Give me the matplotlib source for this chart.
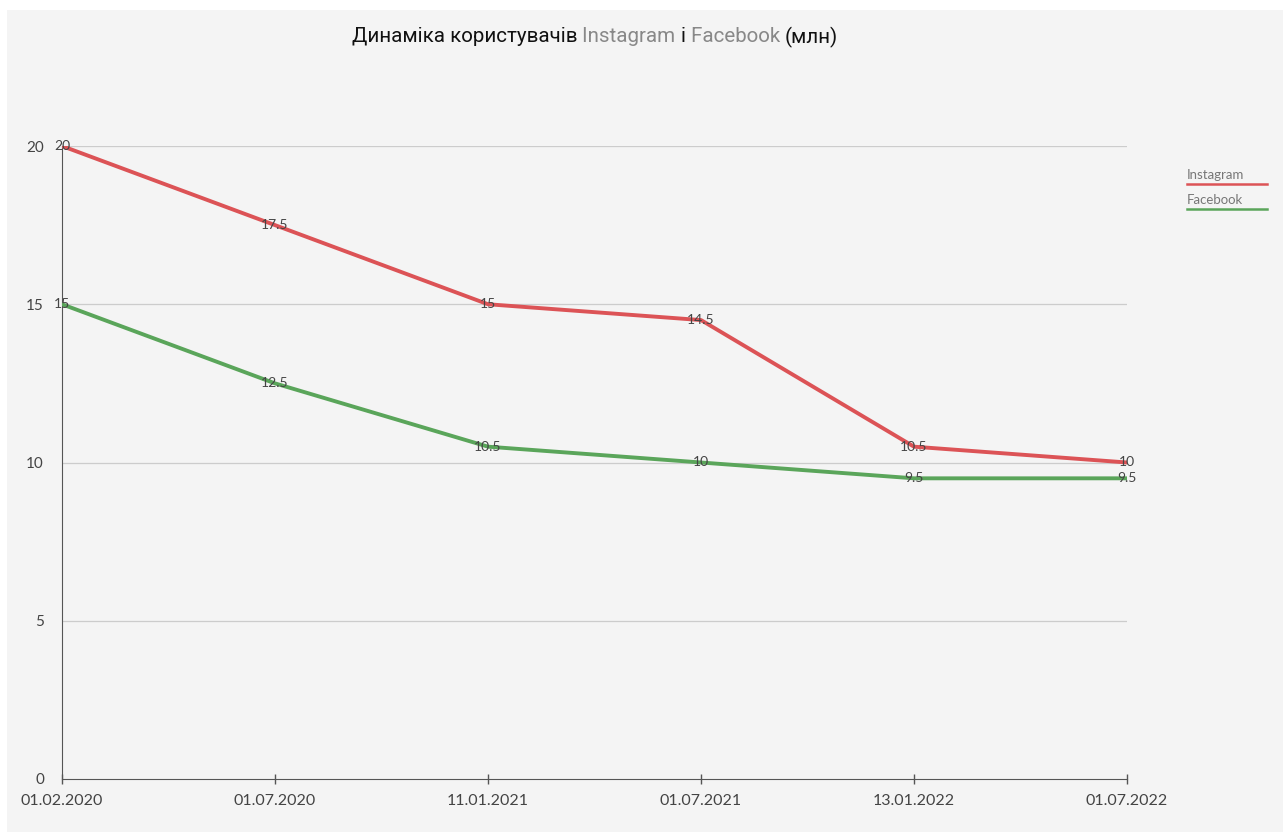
import matplotlib.pyplot as plt
from matplotlib.patches import Rectangle

# дані
dates = ['01.02.2020', '01.07.2020', '11.01.2021', '01.07.2021', '13.01.2022', '01.07.2022']
instagram = [20, 17.5, 15, 14.5, 10.5, 10]
facebook = [15, 12.5, 10.5, 10, 9.5, 9.5]
y_ticks = [0, 5, 10, 15, 20]

red = '#dc5356'
green = '#5aa55a'
bg = '#f4f4f4'
W, H = 1283, 832

plt.rcParams['font.family'] = ['Lato', 'DejaVu Sans']

fig = plt.figure(figsize=(W / 100, H / 100), dpi=100, facecolor='white')
fig.patches.append(Rectangle((7 / W, 0), 1, 1 - 10 / H, transform=fig.transFigure,
                             facecolor=bg, edgecolor='none', zorder=-10))

ax = fig.add_axes([62 / W, 1 - 779 / H, (1127 - 62) / W, (779 - 146) / H])
ax.set_facecolor('none')

x = list(range(len(dates)))
ax.plot(x, instagram, color=red, lw=2.8, solid_capstyle='round', zorder=3)
ax.plot(x, facebook, color=green, lw=2.8, solid_capstyle='round', zorder=3)

for xi, v in zip(x, instagram):
    ax.text(xi, v, f'{v:g}', ha='center', va='center', fontsize=10, color='#444444', zorder=4)
for xi, v in zip(x, facebook):
    ax.text(xi, v, f'{v:g}', ha='center', va='center', fontsize=10, color='#444444', zorder=4)

ax.set_xlim(0, len(dates) - 1)
ax.set_ylim(0, 20)
ax.set_xticks(x)
ax.set_xticklabels(dates, fontsize=11.5, color='#444444')
ax.set_yticks(y_ticks)
ax.set_yticklabels([str(t) for t in y_ticks], fontsize=11, color='#444444')
ax.tick_params(axis='x', direction='inout', length=7, width=1, color='#555555', pad=7)
ax.tick_params(axis='y', length=0, pad=13)

for t in y_ticks[1:]:
    ax.axhline(t, color='#cccccc', lw=0.9, zorder=1)

ax.spines['top'].set_visible(False)
ax.spines['right'].set_visible(False)
ax.spines['left'].set_color('#555555')
ax.spines['bottom'].set_color('#555555')

# легенда
fig.text(1187 / W, 1 - 175 / H, 'Instagram', fontsize=9.5, color='#777777', va='center')
fig.add_artist(plt.Line2D([1187 / W, 1267 / W], [1 - 184 / H, 1 - 184 / H], color=red, lw=1.8))
fig.text(1187 / W, 1 - 200 / H, 'Facebook', fontsize=9.5, color='#777777', va='center')
fig.add_artist(plt.Line2D([1187 / W, 1267 / W], [1 - 209 / H, 1 - 209 / H], color=green, lw=1.8))

# заголовок з різними кольорами
parts = [('Динаміка користувачів ', '#111111'), ('Instagram ', '#888888'),
         ('і ', '#111111'), ('Facebook ', '#888888'), ('(млн)', '#111111')]
fig.canvas.draw()
renderer = fig.canvas.get_renderer()
texts = []
for s, c in parts:
    t = fig.text(0, 1 - 37 / H, s, fontsize=14.8, color=c, va='center',
                 family=['Roboto', 'DejaVu Sans'])
    texts.append(t)
total = sum(t.get_window_extent(renderer).width for t in texts)
xpos = 595 - total / 2
for t in texts:
    t.set_x(xpos / W)
    xpos += t.get_window_extent(renderer).width

fig.savefig('out.png', dpi=100, facecolor='white')
